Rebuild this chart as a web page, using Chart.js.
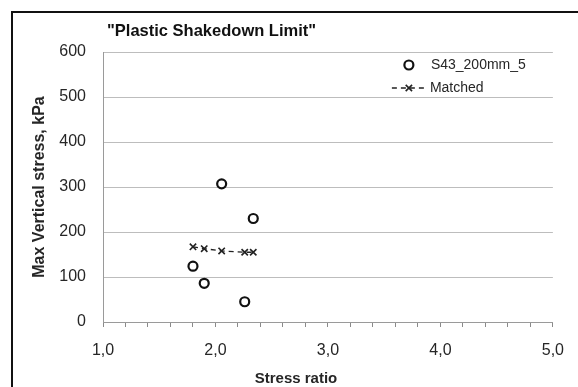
<!DOCTYPE html>
<html>
<head>
<meta charset="utf-8">
<script src="https://cdn.jsdelivr.net/npm/chart.js@4/dist/chart.umd.min.js"></script>
<style>
    html, body { margin: 0; padding: 0; background: #fff; overflow: hidden; }
    #frame {
        position: absolute; left: 11px; top: 11px;
        width: 620px; height: 420px;
        border-left: 2px solid #111; border-top: 2px solid #111;
    }
    #wrap { position: absolute; left: 0; top: 0; width: 578px; height: 387px; }
</style>
</head>
<body>
<div id="frame"></div>
<div id="wrap"><canvas id="shakedownChart"></canvas></div>
<script>
// Данные
const stressRatios = [1.80, 1.90, 2.055, 2.26, 2.336];
const testStress = [124, 86, 307, 45, 230];          // S43_200mm_5
const matchedStress = [167, 163, 158, 155, 155];     // Matched
const seriesNames = ['S43_200mm_5', 'Matched'];
const yTicks = [0, 100, 200, 300, 400, 500, 600];
const xTicks = [1, 2, 3, 4, 5];

const chartTitle = '"Plastic Shakedown Limit"';
const xTitle = 'Stress ratio';
const yTitle = 'Max Vertical stress, kPa';

const FONT = "'Liberation Sans', Arial, sans-serif";
const TEXT = '#262626';

function toPoints(xs, ys) {
    return xs.map((x, i) => ({ x: x, y: ys[i] }));
}

// Заголовок, подпись оси X и легенда рисуются вручную
const overlayPlugin = {
    id: 'overlay',
    afterDraw(chart) {
        const ctx = chart.ctx;
        const area = chart.chartArea;
        ctx.save();

        ctx.fillStyle = '#111';
        ctx.font = 'bold 16.5px ' + FONT;
        ctx.textAlign = 'left';
        ctx.textBaseline = 'middle';
        ctx.fillText(chartTitle, area.left + 4, 31);

        ctx.fillStyle = TEXT;
        ctx.font = 'bold 15px ' + FONT;
        ctx.textAlign = 'center';
        ctx.fillText(xTitle, area.left + 193, 379);

        // легенда
        const lx = area.right - 144;
        let ly = area.top + 13;
        ctx.font = '14px ' + FONT;
        ctx.textAlign = 'left';
        chart.data.datasets.forEach((ds) => {
            ctx.strokeStyle = ds.borderColor;
            if (ds.showLine) {
                ctx.lineWidth = ds.borderWidth;
                ctx.setLineDash(ds.borderDash);
                ctx.beginPath();
                ctx.moveTo(lx - 17, ly);
                ctx.lineTo(lx + 18, ly);
                ctx.stroke();
                ctx.setLineDash([]);
            }
            ctx.fillStyle = '#fff';
            ctx.lineWidth = ds.pointBorderWidth;
            Chart.helpers.drawPoint(ctx, {
                pointStyle: ds.pointStyle,
                radius: ds.pointRadius,
                borderWidth: ds.pointBorderWidth,
                rotation: 0
            }, lx, ly);
            ctx.fillStyle = TEXT;
            ctx.fillText(ds.label, lx + (ds.showLine ? 21 : 22), ly);
            ly += 23;
        });

        ctx.restore();
    }
};

const ctx = document.getElementById('shakedownChart').getContext('2d');
new Chart(ctx, {
    type: 'scatter',
    data: {
        datasets: [{
            label: seriesNames[0],
            data: toPoints(stressRatios, testStress),
            showLine: false,
            pointStyle: 'circle',
            pointRadius: 4.5,
            pointBorderWidth: 2.2,
            borderColor: '#111',
            backgroundColor: '#fff',
            pointBackgroundColor: '#fff'
        }, {
            label: seriesNames[1],
            data: toPoints(stressRatios, matchedStress),
            showLine: true,
            borderDash: [5, 4],
            borderWidth: 1.3,
            borderColor: '#222',
            pointStyle: 'crossRot',
            pointRadius: 4.5,
            pointBorderWidth: 1.6,
            backgroundColor: '#222',
            fill: false
        }]
    },
    plugins: [overlayPlugin],
    options: {
        responsive: true,
        maintainAspectRatio: false,
        animation: false,
        layout: {
            padding: { left: 0, top: 52, right: 25, bottom: 0 }
        },
        plugins: {
            legend: { display: false },
            title: { display: false },
            tooltip: { enabled: false }
        },
        scales: {
            x: {
                type: 'linear',
                min: xTicks[0],
                max: xTicks[xTicks.length - 1],
                afterFit: function(scale) { scale.height = 65; },
                border: { display: true, color: '#9a9a9a', width: 1 },
                grid: {
                    drawOnChartArea: false,
                    drawTicks: true,
                    tickLength: 5,
                    tickColor: '#8a8a8a'
                },
                ticks: {
                    stepSize: 0.2,
                    autoSkip: false,
                    maxRotation: 0,
                    padding: 14,
                    color: TEXT,
                    font: { family: FONT, size: 16 },
                    callback: function(v) {
                        const r = Math.round(v);
                        if (Math.abs(v - r) < 1e-6 && xTicks.includes(r)) {
                            return r.toFixed(1).replace('.', ',');
                        }
                        return '';
                    }
                }
            },
            y: {
                min: yTicks[0],
                max: yTicks[yTicks.length - 1],
                afterFit: function(scale) { scale.width = 103; },
                border: { display: true, color: '#9a9a9a', width: 1 },
                grid: {
                    color: '#bdbdbd',
                    lineWidth: 1,
                    drawTicks: false
                },
                ticks: {
                    stepSize: 100,
                    padding: 17,
                    color: TEXT,
                    font: { family: FONT, size: 16 }
                },
                title: {
                    display: true,
                    text: yTitle,
                    color: TEXT,
                    padding: { top: 30, bottom: 0 },
                    font: { family: FONT, size: 16, weight: 'bold' }
                }
            }
        }
    }
});
</script>
</body>
</html>
